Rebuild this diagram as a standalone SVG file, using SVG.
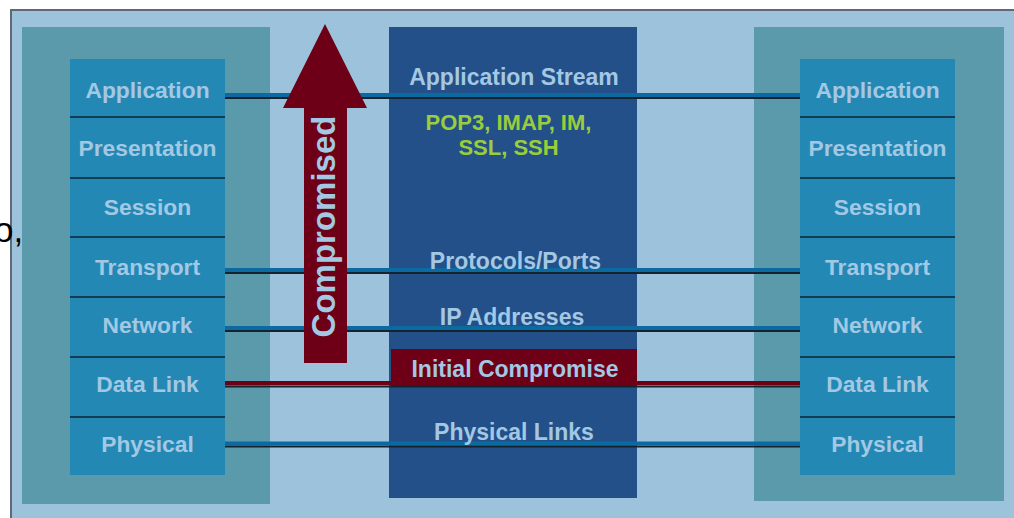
<svg xmlns="http://www.w3.org/2000/svg" width="1014" height="518" viewBox="0 0 1014 518">
<style>
.lbl{font-family:"Liberation Sans",Arial,sans-serif;font-weight:bold;font-size:22.8px;fill:#a3c8e3;text-anchor:middle}
.grn{font-family:"Liberation Sans",Arial,sans-serif;font-weight:bold;font-size:22px;fill:#9acd3c;text-anchor:middle}
.layer{fill:#2488b5}
.div{stroke:#0d2533;stroke-width:1.6}
.blue{stroke:#0a6aa1;stroke-width:4}
.red{stroke:#6d0016;stroke-width:4}
.dark{stroke:#17232c;stroke-width:2}
</style>
<rect width="1014" height="518" fill="#ffffff"/>
<rect id="frame" x="11" y="10" width="1020" height="520" fill="#9dc3dc" stroke="#5d6a74" stroke-width="2"/>
<g id="left-stack">
  <rect x="22" y="27" width="248" height="477" fill="#5b9aab"/>
  <rect class="layer" x="70" y="59" width="155" height="416"/>
  <line class="div" x1="70" y1="117" x2="225" y2="117"/>
  <line class="div" x1="70" y1="178" x2="225" y2="178"/>
  <line class="div" x1="70" y1="237" x2="225" y2="237"/>
  <line class="div" x1="70" y1="297" x2="225" y2="297"/>
  <line class="div" x1="70" y1="357" x2="225" y2="357"/>
  <line class="div" x1="70" y1="417" x2="225" y2="417"/>
  <text class="lbl" x="147.5" y="98">Application</text>
  <text class="lbl" x="147.5" y="156">Presentation</text>
  <text class="lbl" x="147.5" y="215">Session</text>
  <text class="lbl" x="147.5" y="275">Transport</text>
  <text class="lbl" x="147.5" y="333">Network</text>
  <text class="lbl" x="147.5" y="392">Data Link</text>
  <text class="lbl" x="147.5" y="452">Physical</text>
</g>
<g id="right-stack">
  <rect x="754" y="27" width="250" height="474" fill="#5b9aab"/>
  <rect class="layer" x="800" y="59" width="155" height="416"/>
  <line class="div" x1="800" y1="117" x2="955" y2="117"/>
  <line class="div" x1="800" y1="178" x2="955" y2="178"/>
  <line class="div" x1="800" y1="237" x2="955" y2="237"/>
  <line class="div" x1="800" y1="297" x2="955" y2="297"/>
  <line class="div" x1="800" y1="357" x2="955" y2="357"/>
  <line class="div" x1="800" y1="417" x2="955" y2="417"/>
  <text class="lbl" x="877.5" y="98">Application</text>
  <text class="lbl" x="877.5" y="156">Presentation</text>
  <text class="lbl" x="877.5" y="215">Session</text>
  <text class="lbl" x="877.5" y="275">Transport</text>
  <text class="lbl" x="877.5" y="333">Network</text>
  <text class="lbl" x="877.5" y="392">Data Link</text>
  <text class="lbl" x="877.5" y="452">Physical</text>
</g>
<g id="center">
  <rect x="389" y="27" width="248" height="471" fill="#235089"/>
  <rect id="initial-compromise" x="391" y="349" width="246" height="38" fill="#6d0016"/>
</g>
<g id="connectors">
  <line class="dark" x1="225" y1="98" x2="800" y2="98"/>
  <line class="blue" x1="225" y1="95" x2="800" y2="95"/>
  <line class="dark" x1="225" y1="273" x2="800" y2="273"/>
  <line class="blue" x1="225" y1="270" x2="800" y2="270"/>
  <line class="dark" x1="225" y1="331" x2="800" y2="331"/>
  <line class="blue" x1="225" y1="328" x2="800" y2="328"/>
  <line class="dark" x1="225" y1="386.5" x2="800" y2="386.5"/>
  <line class="red" x1="225" y1="383" x2="800" y2="383"/>
  <line class="dark" x1="225" y1="446.5" x2="800" y2="446.5"/>
  <line class="blue" x1="225" y1="443.5" x2="800" y2="443.5"/>
</g>
<g id="center-labels">
  <text class="lbl" x="514" y="85" style="font-size:23px">Application Stream</text>
  <text class="grn" x="508.5" y="130">POP3, IMAP, IM,</text>
  <text class="grn" x="508.5" y="155">SSL, SSH</text>
  <text class="lbl" x="515.5" y="269" style="font-size:23px">Protocols/Ports</text>
  <text class="lbl" x="512" y="325" style="font-size:23px">IP Addresses</text>
  <text class="lbl" x="515" y="377" style="font-size:23px">Initial Compromise</text>
  <text class="lbl" x="514" y="440" style="font-size:23px">Physical Links</text>
</g>
<g id="compromised-arrow">
  <polygon points="325,24 367,108 347,108 347,363 304,363 304,108 283,108" fill="#6d0016"/>
  <text class="lbl" style="font-size:33px" transform="translate(335,226.5) rotate(-90)" x="0" y="0">Compromised</text>
</g>
<text x="-6" y="242" font-family="Liberation Sans,Arial,sans-serif" font-size="35" fill="#000000">o,</text>
</svg>
